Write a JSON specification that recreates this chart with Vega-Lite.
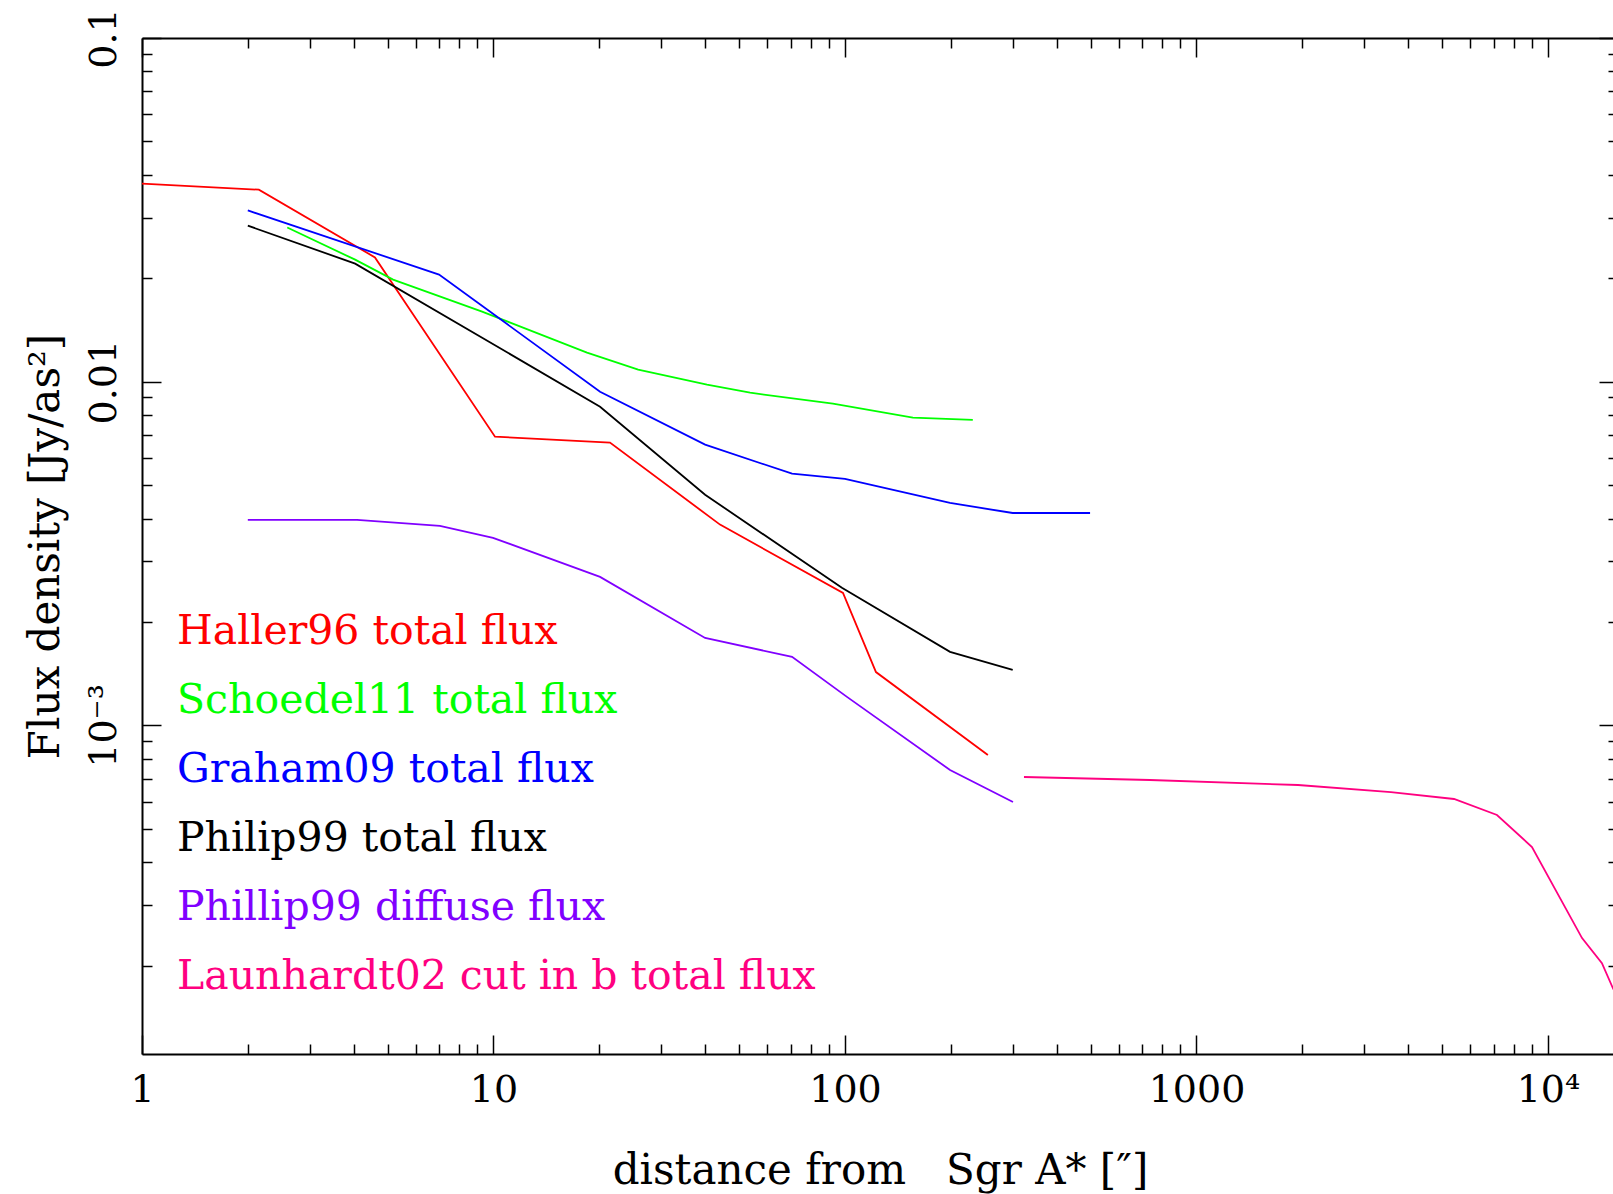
{
  "$schema": "https://vega.github.io/schema/vega-lite/v6.json",
  "width": 1476,
  "height": 1016,
  "autosize": "none",
  "padding": {"left": 142, "top": 38, "right": 0, "bottom": 140},
  "background": "white",
  "config": {"view": {"stroke": null}, "font": "DejaVu Serif"},
  "data": {"values": [
    {"series": "Haller96 total flux", "distance": 1, "flux": 0.0377},
    {"series": "Haller96 total flux", "distance": 2.15, "flux": 0.0362},
    {"series": "Haller96 total flux", "distance": 4.6, "flux": 0.023},
    {"series": "Haller96 total flux", "distance": 10.1, "flux": 0.00692},
    {"series": "Haller96 total flux", "distance": 21.45, "flux": 0.00665},
    {"series": "Haller96 total flux", "distance": 44.1, "flux": 0.00384},
    {"series": "Haller96 total flux", "distance": 98.7, "flux": 0.00243},
    {"series": "Haller96 total flux", "distance": 122.5, "flux": 0.00143},
    {"series": "Haller96 total flux", "distance": 255, "flux": 0.00082},
    {"series": "Schoedel11 total flux", "distance": 2.59, "flux": 0.0281},
    {"series": "Schoedel11 total flux", "distance": 4.04, "flux": 0.02265},
    {"series": "Schoedel11 total flux", "distance": 5.18, "flux": 0.01982},
    {"series": "Schoedel11 total flux", "distance": 9.28, "flux": 0.01599},
    {"series": "Schoedel11 total flux", "distance": 18.45, "flux": 0.01215},
    {"series": "Schoedel11 total flux", "distance": 25.8, "flux": 0.01084},
    {"series": "Schoedel11 total flux", "distance": 40.5, "flux": 0.0098},
    {"series": "Schoedel11 total flux", "distance": 53.7, "flux": 0.00929},
    {"series": "Schoedel11 total flux", "distance": 92.4, "flux": 0.00863},
    {"series": "Schoedel11 total flux", "distance": 156, "flux": 0.00786},
    {"series": "Schoedel11 total flux", "distance": 231, "flux": 0.00775},
    {"series": "Graham09 total flux", "distance": 2, "flux": 0.0315},
    {"series": "Graham09 total flux", "distance": 7.0, "flux": 0.0205},
    {"series": "Graham09 total flux", "distance": 20.1, "flux": 0.00935},
    {"series": "Graham09 total flux", "distance": 40, "flux": 0.00656},
    {"series": "Graham09 total flux", "distance": 70.7, "flux": 0.0054},
    {"series": "Graham09 total flux", "distance": 100, "flux": 0.00522},
    {"series": "Graham09 total flux", "distance": 199, "flux": 0.00444},
    {"series": "Graham09 total flux", "distance": 300, "flux": 0.00415},
    {"series": "Graham09 total flux", "distance": 498, "flux": 0.00415},
    {"series": "Philip99 total flux", "distance": 2, "flux": 0.02845},
    {"series": "Philip99 total flux", "distance": 4.04, "flux": 0.02206},
    {"series": "Philip99 total flux", "distance": 20.1, "flux": 0.00846},
    {"series": "Philip99 total flux", "distance": 40, "flux": 0.00469},
    {"series": "Philip99 total flux", "distance": 98, "flux": 0.002514},
    {"series": "Philip99 total flux", "distance": 199, "flux": 0.001637},
    {"series": "Philip99 total flux", "distance": 300, "flux": 0.00145},
    {"series": "Phillip99 diffuse flux", "distance": 2, "flux": 0.003965},
    {"series": "Phillip99 diffuse flux", "distance": 4.09, "flux": 0.003965},
    {"series": "Phillip99 diffuse flux", "distance": 7.04, "flux": 0.00381},
    {"series": "Phillip99 diffuse flux", "distance": 9.97, "flux": 0.003515},
    {"series": "Phillip99 diffuse flux", "distance": 20.1, "flux": 0.002705},
    {"series": "Phillip99 diffuse flux", "distance": 40, "flux": 0.001797},
    {"series": "Phillip99 diffuse flux", "distance": 70.7, "flux": 0.001583},
    {"series": "Phillip99 diffuse flux", "distance": 101.3, "flux": 0.001211},
    {"series": "Phillip99 diffuse flux", "distance": 199, "flux": 0.000742},
    {"series": "Phillip99 diffuse flux", "distance": 300.6, "flux": 0.000599},
    {"series": "Launhardt02 cut in b total flux", "distance": 323, "flux": 0.000708},
    {"series": "Launhardt02 cut in b total flux", "distance": 737, "flux": 0.000694},
    {"series": "Launhardt02 cut in b total flux", "distance": 1945, "flux": 0.000671},
    {"series": "Launhardt02 cut in b total flux", "distance": 3574, "flux": 0.00064},
    {"series": "Launhardt02 cut in b total flux", "distance": 5404, "flux": 0.000611},
    {"series": "Launhardt02 cut in b total flux", "distance": 7160, "flux": 0.000549},
    {"series": "Launhardt02 cut in b total flux", "distance": 9005, "flux": 0.000443},
    {"series": "Launhardt02 cut in b total flux", "distance": 12500, "flux": 0.0002406},
    {"series": "Launhardt02 cut in b total flux", "distance": 14240, "flux": 0.0002035},
    {"series": "Launhardt02 cut in b total flux", "distance": 15300, "flux": 0.000172},
    {"series": "Launhardt02 cut in b total flux", "distance": 16500, "flux": 0.000149}
  ]},
  "layer": [
    {
      "mark": {"type": "line", "strokeWidth": 1.8, "clip": true},
      "encoding": {
        "x": {
          "field": "distance", "type": "quantitative",
          "scale": {"type": "log", "domain": [1, 15820], "nice": false, "zero": false},
          "axis": {
            "orient": "bottom",
            "values": [1,2,3,4,5,6,7,8,9,10,20,30,40,50,60,70,80,90,100,200,300,400,500,600,700,800,900,1000,2000,3000,4000,5000,6000,7000,8000,9000,10000],
            "labelExpr": "datum.value == 1 ? '1' : datum.value == 10 ? '10' : datum.value == 100 ? '100' : datum.value == 1000 ? '1000' : datum.value == 10000 ? '10⁴' : ''",
            "tickSize": {"condition": {"test": "datum.value == 1 || datum.value == 10 || datum.value == 100 || datum.value == 1000 || datum.value == 10000", "value": -19}, "value": -10},
            "tickColor": "black", "tickWidth": 1.5,
            "domainColor": "black", "domainWidth": 2,
            "grid": false,
            "labelFont": "DejaVu Serif", "labelFontSize": 38, "labelColor": "black",
            "labelPadding": 36, "labelFlush": false, "labelOverlap": false, "labelBound": false,
            "title": "distance from \u00a0\u00a0Sgr A* [″]",
            "titleFont": "DejaVu Serif", "titleFontSize": 42, "titleFontWeight": "normal", "titleColor": "black",
            "titleX": 738, "titleY": 129, "titleBaseline": "alphabetic", "titleAlign": "center"
          }
        },
        "y": {
          "field": "flux", "type": "quantitative",
          "scale": {"type": "log", "domain": [0.0001107, 0.1], "nice": false, "zero": false},
          "axis": {
            "orient": "left",
            "values": [0.0002,0.0003,0.0004,0.0005,0.0006,0.0007,0.0008,0.0009,0.001,0.002,0.003,0.004,0.005,0.006,0.007,0.008,0.009,0.01,0.02,0.03,0.04,0.05,0.06,0.07,0.08,0.09,0.1],
            "labelExpr": "datum.value == 0.1 ? '0.1' : datum.value == 0.01 ? '0.01' : datum.value == 0.001 ? '10⁻³' : ''",
            "tickSize": {"condition": {"test": "datum.value == 0.1 || datum.value == 0.01 || datum.value == 0.001", "value": -19}, "value": -10},
            "tickColor": "black", "tickWidth": 1.5,
            "domainColor": "black", "domainWidth": 2,
            "grid": false,
            "labelFont": "DejaVu Serif", "labelFontSize": 38, "labelColor": "black",
            "labelAngle": 270, "labelAlign": "center", "labelBaseline": "alphabetic",
            "labelPadding": 46, "labelFlush": false, "labelOverlap": false, "labelBound": false,
            "title": "Flux density [Jy/as²]",
            "titleFont": "DejaVu Serif", "titleFontSize": 42, "titleFontWeight": "normal", "titleColor": "black",
            "titleAngle": 270, "titleX": -84, "titleY": 508, "titleBaseline": "alphabetic", "titleAlign": "center"
          }
        },
        "color": {
          "field": "series", "type": "nominal",
          "scale": {
            "domain": ["Haller96 total flux", "Schoedel11 total flux", "Graham09 total flux", "Philip99 total flux", "Phillip99 diffuse flux", "Launhardt02 cut in b total flux"],
            "range": ["#ff0000", "#00ff00", "#0000ff", "#000000", "#8000ff", "#ff0080"]
          },
          "legend": {
            "orient": "none", "legendX": -6, "legendY": 573,
            "title": null,
            "symbolOpacity": 0, "symbolSize": 0, "symbolStrokeWidth": 0,
            "labelFont": "DejaVu Serif", "labelFontSize": 41, "labelLimit": 2000, "labelOffset": 0,
            "rowPadding": 27, "padding": 0,
            "encode": {"labels": {"update": {"fill": {"scale": "color", "field": "value"}}}}
          }
        }
      }
    },
    {
      "mark": {"type": "point", "opacity": 0},
      "encoding": {
        "x": {
          "field": "distance", "type": "quantitative",
          "scale": {"type": "log", "domain": [1, 15820], "nice": false, "zero": false},
          "axis": {
            "orient": "top",
            "values": [1,2,3,4,5,6,7,8,9,10,20,30,40,50,60,70,80,90,100,200,300,400,500,600,700,800,900,1000,2000,3000,4000,5000,6000,7000,8000,9000,10000],
            "labels": false,
            "tickSize": {"condition": {"test": "datum.value == 1 || datum.value == 10 || datum.value == 100 || datum.value == 1000 || datum.value == 10000", "value": -19}, "value": -10},
            "tickColor": "black", "tickWidth": 1.5,
            "domainColor": "black", "domainWidth": 2,
            "grid": false, "title": null
          }
        },
        "y": {
          "field": "flux", "type": "quantitative",
          "scale": {"type": "log", "domain": [0.0001107, 0.1], "nice": false, "zero": false},
          "axis": {
            "orient": "right",
            "values": [0.0002,0.0003,0.0004,0.0005,0.0006,0.0007,0.0008,0.0009,0.001,0.002,0.003,0.004,0.005,0.006,0.007,0.008,0.009,0.01,0.02,0.03,0.04,0.05,0.06,0.07,0.08,0.09,0.1],
            "labels": false,
            "tickSize": {"condition": {"test": "datum.value == 0.1 || datum.value == 0.01 || datum.value == 0.001", "value": -19}, "value": -10},
            "tickColor": "black", "tickWidth": 1.5,
            "domainColor": "black", "domainWidth": 2,
            "grid": false, "title": null
          }
        }
      }
    }
  ],
  "resolve": {"axis": {"x": "independent", "y": "independent"}}
}
